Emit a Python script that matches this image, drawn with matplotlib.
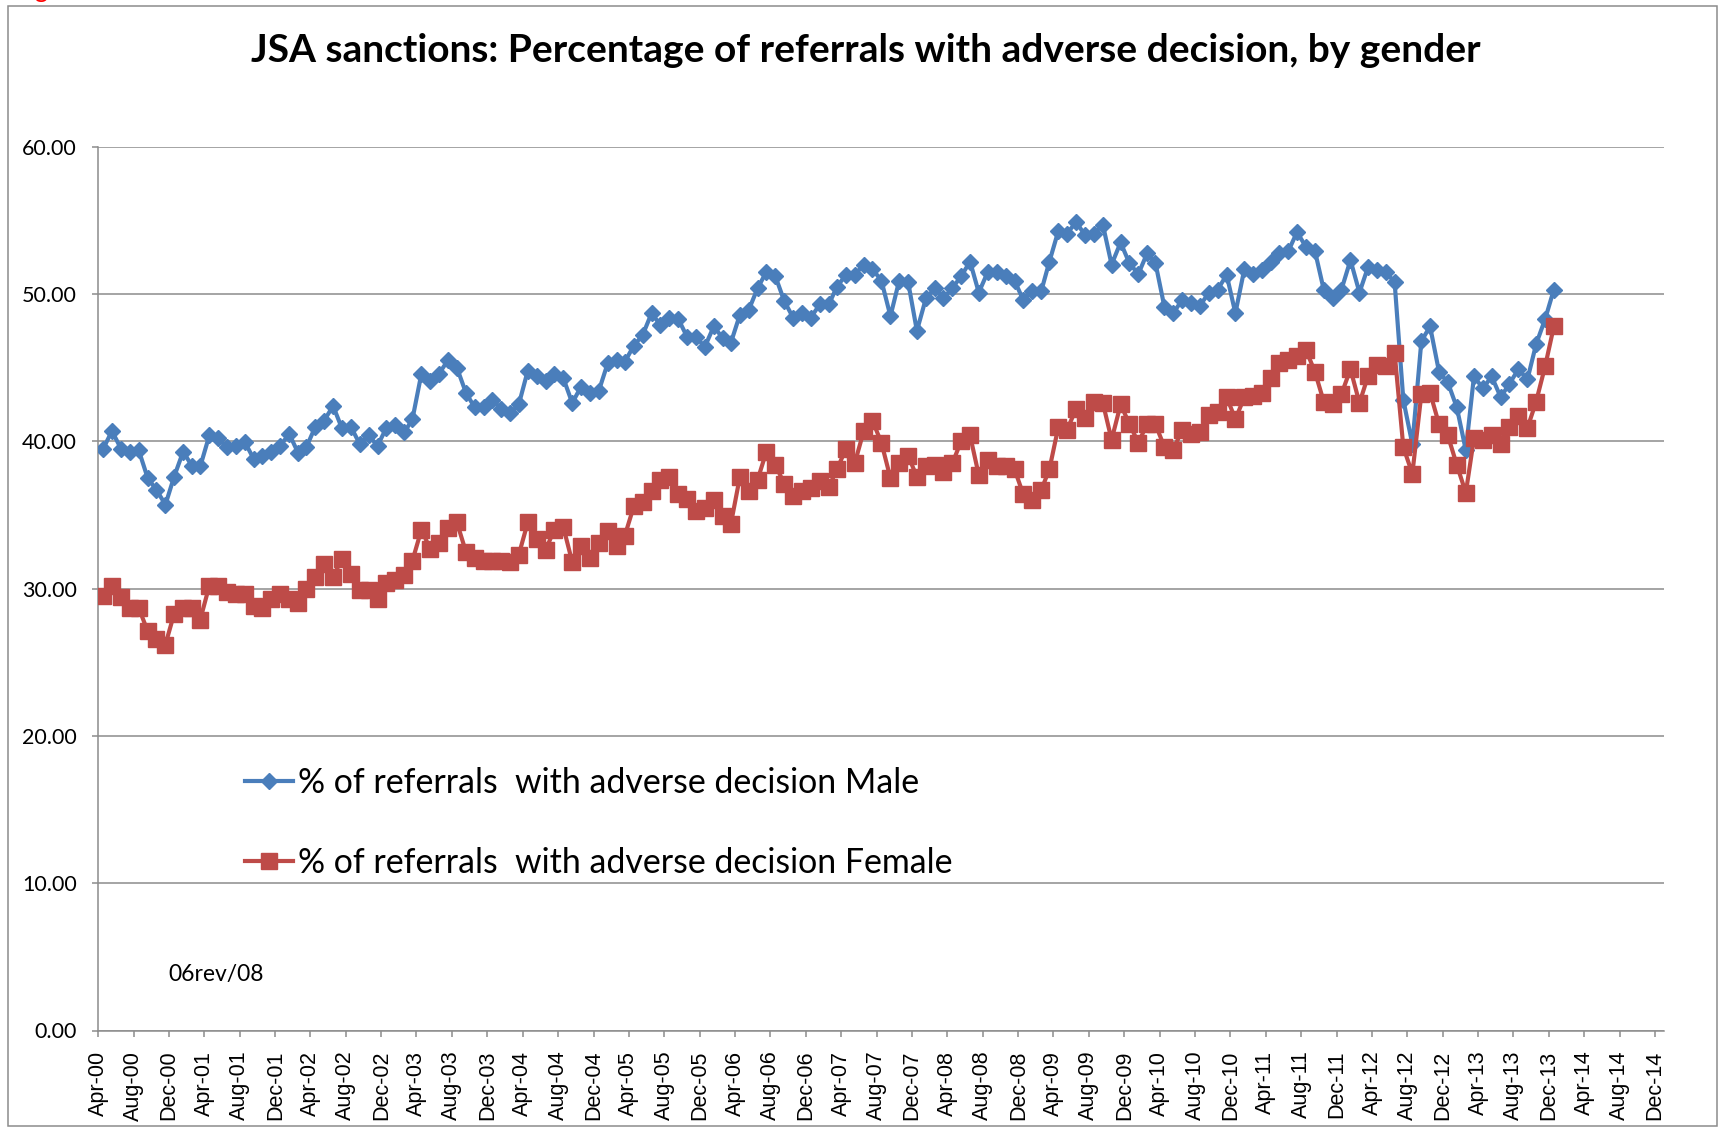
import numpy as np
import pandas as pd
import matplotlib
matplotlib.use("Agg")
import matplotlib.pyplot as plt
from matplotlib.patches import Rectangle

plt.rcParams["font.family"] = ["Lato", "DejaVu Sans"]

# monthly series, Apr-00 .. Dec-13
start_month = "2000-04-01"
end_month = "2013-12-01"

male = [
    39.5, 40.7, 39.5, 39.3, 39.4, 37.5, 36.7, 35.7, 37.6, 39.3,
    38.3, 38.3, 40.4, 40.2, 39.6, 39.7, 39.95, 38.8, 39.0, 39.3,
    39.7, 40.5, 39.2, 39.6, 41.0, 41.4, 42.4, 40.9, 41.0, 39.8,
    40.4, 39.7, 40.9, 41.1, 40.6, 41.5, 44.6, 44.1, 44.6, 45.5,
    45.0, 43.3, 42.3, 42.3, 42.8, 42.2, 41.9, 42.5, 44.8, 44.4,
    44.1, 44.6, 44.3, 42.6, 43.7, 43.3, 43.4, 45.3, 45.5, 45.4,
    46.5, 47.2, 48.7, 47.9, 48.4, 48.3, 47.1, 47.1, 46.4, 47.8,
    47.0, 46.7, 48.6, 48.9, 50.4, 51.5, 51.2, 49.5, 48.4, 48.7,
    48.4, 49.3, 49.3, 50.5, 51.3, 51.3, 52.0, 51.7, 50.9, 48.5,
    50.9, 50.8, 47.5, 49.7, 50.4, 49.7, 50.4, 51.2, 52.2, 50.1,
    51.5, 51.5, 51.2, 50.9, 49.6, 50.2, 50.2, 52.2, 54.3, 54.1,
    54.9, 54.0, 54.1, 54.7, 52.0, 53.5, 52.1, 51.35, 52.8, 52.1,
    49.1, 48.7, 49.6, 49.4, 49.2, 50.1, 50.3, 51.3, 48.7, 51.7,
    51.35, 51.6, 52.2, 52.8, 52.9, 54.2, 53.2, 52.9, 50.3, 49.7,
    50.3, 52.3, 50.1, 51.8, 51.6, 51.5, 50.8, 42.8, 39.8, 46.8,
    47.8, 44.7, 44.0, 42.3, 39.4, 44.4, 43.6, 44.4, 43.0, 43.9,
    44.9, 44.2, 46.6, 48.3, 50.3,
]

female = [
    29.5, 30.2, 29.4, 28.7, 28.7, 27.1, 26.6, 26.2, 28.3, 28.7,
    28.7, 27.9, 30.2, 30.2, 29.8, 29.6, 29.6, 28.8, 28.7, 29.3,
    29.6, 29.3, 29.0, 30.0, 30.8, 31.7, 30.8, 32.0, 31.0, 29.9,
    29.9, 29.3, 30.4, 30.6, 30.9, 31.9, 34.0, 32.7, 33.1, 34.1,
    34.5, 32.5, 32.1, 31.9, 31.9, 31.9, 31.8, 32.3, 34.5, 33.4,
    32.6, 34.0, 34.2, 31.8, 32.9, 32.1, 33.1, 33.9, 32.9, 33.6,
    35.6, 35.9, 36.6, 37.4, 37.6, 36.4, 36.1, 35.3, 35.5, 36.0,
    34.9, 34.4, 37.6, 36.6, 37.4, 39.3, 38.4, 37.1, 36.3, 36.6,
    36.8, 37.3, 36.9, 38.1, 39.5, 38.5, 40.7, 41.4, 39.9, 37.5,
    38.5, 39.0, 37.6, 38.3, 38.4, 37.9, 38.5, 40.0, 40.4, 37.7,
    38.7, 38.3, 38.3, 38.1, 36.4, 36.0, 36.7, 38.1, 41.0, 40.8,
    42.2, 41.6, 42.7, 42.6, 40.1, 42.5, 41.2, 39.9, 41.2, 41.15,
    39.6, 39.4, 40.8, 40.5, 40.6, 41.8, 42.0, 43.0, 41.5, 43.0,
    43.1, 43.3, 44.3, 45.3, 45.5, 45.8, 46.2, 44.7, 42.7, 42.5,
    43.2, 44.9, 42.6, 44.4, 45.2, 45.1, 46.0, 39.6, 37.8, 43.2,
    43.3, 41.15, 40.4, 38.4, 36.5, 40.2, 40.1, 40.4, 39.8, 41.0,
    41.7, 40.9, 42.7, 45.1, 47.8,
]

labels = [
    "% of referrals  with adverse decision Male",
    "% of referrals  with adverse decision Female",
]
y_ticks = [0, 10, 20, 30, 40, 50, 60]

BLUE = "#4A7EBB"
RED = "#BE4B48"
GRID = "#8C8C8C"


def main():
    months = pd.date_range(start_month, end_month, freq="MS")
    # Excel draws each month a little after the tick
    x = months + pd.Timedelta(days=17)
    tick_dates = pd.date_range("2000-04-01", "2014-12-01", freq="4MS")

    fig = plt.figure(figsize=(17.2, 11.28), dpi=100)
    ax = fig.add_axes([98.3 / 1720, 1 - 1030.5 / 1128,
                       (1664 - 98.3) / 1720, (1030.5 - 146.7) / 1128])

    ax.plot(x, male, color=BLUE, lw=3.0, marker="D", ms=8.0,
            mec=BLUE, mfc=BLUE, label=labels[0], zorder=3)
    ax.plot(x, female, color=RED, lw=3.0, marker="s", ms=11.0,
            mec=RED, mfc=RED, label=labels[1], zorder=4)

    ax.set_xlim(pd.Timestamp("2000-04-01"), pd.Timestamp("2015-01-01"))
    ax.set_ylim(0, 60)
    ax.set_yticks(y_ticks)
    ax.set_yticklabels([f"{v:.2f}" for v in y_ticks], fontsize=15.5)
    ax.set_xticks(tick_dates)
    ax.set_xticklabels(tick_dates.strftime("%b-%y"), rotation=90,
                       fontsize=15.5, family="Liberation Sans")

    ax.grid(axis="y", color=GRID, lw=1.1)
    ax.set_axisbelow(True)
    for side in ["top", "right"]:
        ax.spines[side].set_visible(False)
    for side in ["left", "bottom"]:
        ax.spines[side].set_color(GRID)
        ax.spines[side].set_linewidth(1.1)
    ax.tick_params(axis="y", length=4.5, width=1.1, color=GRID, pad=11)
    ax.tick_params(axis="x", length=4.5, width=1.1, color=GRID, pad=10)

    ax.legend(loc="center left", bbox_to_anchor=(245 / 1720, 1 - 823 / 1128),
              bbox_transform=fig.transFigure, frameon=False, fontsize=24.4,
              handlelength=1.42, handletextpad=0.15, labelspacing=1.42,
              borderpad=0, borderaxespad=0)

    fig.text(866 / 1720, 1 - 51 / 1128,
             "JSA sanctions: Percentage of referrals with adverse decision, by gender",
             ha="center", va="center", fontsize=28, fontweight="bold")
    fig.text(168 / 1720, 1 - 974 / 1128, "06rev/08", ha="left", va="center",
             fontsize=16.5)
    # cut-off red letter at the very top of the page
    fig.text(34 / 1720, 1 + 2 / 1128, "g", color="red", ha="left",
             va="baseline", fontsize=18)

    fig.patches.append(Rectangle((8 / 1720, 1 - 1126 / 1128),
                                 (1717 - 8) / 1720, (1126 - 6) / 1128,
                                 transform=fig.transFigure, fill=False,
                                 edgecolor=GRID, lw=1.1))

    fig.savefig("out.png", dpi=100)


if __name__ == "__main__":
    main()
